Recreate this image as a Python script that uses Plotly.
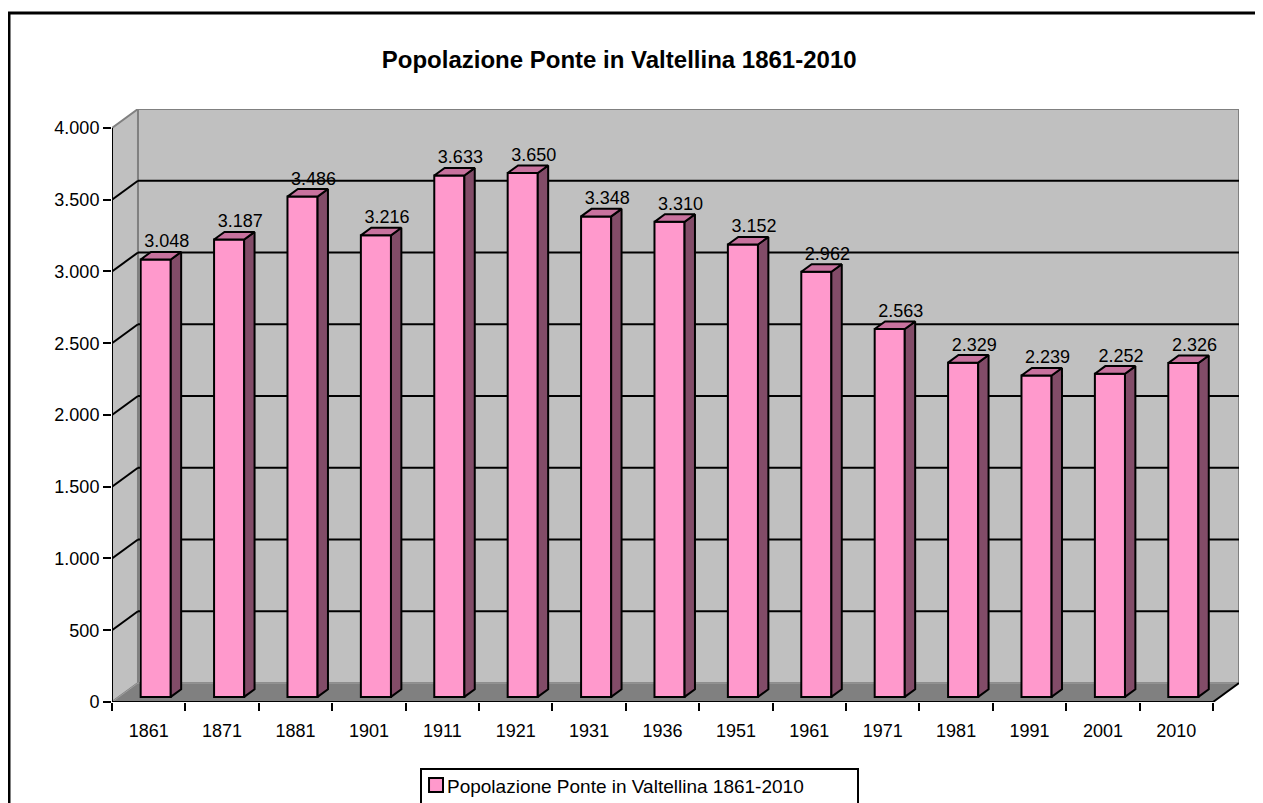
"""Popolazione Ponte in Valtellina 1861-2010 - colonne in stile 3D."""

import plotly.graph_objects as go

# Dati
anni = ["1861", "1871", "1881", "1901", "1911", "1921", "1931", "1936",
        "1951", "1961", "1971", "1981", "1991", "2001", "2010"]
popolazione = [3048, 3187, 3486, 3216, 3633, 3650, 3348, 3310,
               3152, 2962, 2563, 2329, 2239, 2252, 2326]
tick_y = [0, 500, 1000, 1500, 2000, 2500, 3000, 3500, 4000]
titolo = "Popolazione Ponte in Valtellina 1861-2010"

FONT = "Liberation Sans, Arial, sans-serif"
PINK = "#ff99cc"
SIDE = "#824c68"
TOP = "#c8729e"

# Profondita' dell'effetto 3D, in unita' degli assi
DX = 0.354          # categorie
DY = 132            # abitanti
F0, FD = 0.27, 0.40  # inizio e spessore della colonna in profondita'
W = 0.41
N = len(anni)
YMAX = tick_y[-1]

xs = [i + F0 * DX for i in range(N)]
base = F0 * DY

# Facce laterali e superiori calcolate dai valori
side_x, side_y, top_x, top_y = [], [], [], []
for x, v in zip(xs, popolazione):
    xl, xr, t = x - W / 2, x + W / 2, v + base
    side_x += [xr, xr + FD * DX, xr + FD * DX, xr, xr, None]
    side_y += [base, base + FD * DY, t + FD * DY, t, base, None]
    top_x += [xl, xr, xr + FD * DX, xl + FD * DX, xl, None]
    top_y += [t, t, t + FD * DY, t + FD * DY, t, None]

etichette = [f"{v:,}".replace(",", ".") for v in popolazione]

fig = go.Figure()
fig.add_trace(go.Bar(
    x=xs, y=popolazione, base=base, width=W, name=titolo,
    marker=dict(color=PINK, line=dict(color="black", width=2)),
))
fig.add_trace(go.Scatter(
    x=side_x, y=side_y, mode="lines", fill="toself", fillcolor=SIDE,
    line=dict(color="black", width=2), hoverinfo="skip",
))
fig.add_trace(go.Scatter(
    x=top_x, y=top_y, mode="lines", fill="toself", fillcolor=TOP,
    line=dict(color="black", width=2), hoverinfo="skip",
))
fig.add_trace(go.Scatter(
    x=[x + FD * DX / 2 + 0.08 for x in xs],
    y=[v + base + FD * DY for v in popolazione],
    mode="text", text=etichette, textposition="top center",
    textfont=dict(family=FONT, size=18, color="black"),
    hoverinfo="skip",
))

# Pareti, pavimento e griglia
x0, x1 = -0.5, N - 0.5
shapes = [
    dict(type="rect", xref="x", yref="y", x0=x0 + DX, x1=x1 + DX, y0=DY, y1=YMAX + DY,
         fillcolor="#c0c0c0", line=dict(color="#808080", width=2), layer="below"),
    dict(type="path", xref="x", yref="y",
         path=f"M {x0},0 L {x0 + DX},{DY} L {x0 + DX},{YMAX + DY} L {x0},{YMAX} Z",
         fillcolor="#c0c0c0", line=dict(color="#808080", width=2), layer="below"),
    dict(type="path", xref="x", yref="y",
         path=f"M {x0},0 L {x1},0 L {x1 + DX},{DY} L {x0 + DX},{DY} Z",
         fillcolor="#808080", line=dict(color="#a0a0a0", width=1), layer="below"),
]
for v in tick_y[1:-1]:
    shapes.append(dict(type="line", xref="x", yref="y", x0=x0 + DX, x1=x1 + DX,
                       y0=v + DY, y1=v + DY, line=dict(color="black", width=2), layer="below"))
    shapes.append(dict(type="line", xref="x", yref="y", x0=x0, x1=x0 + DX,
                       y0=v, y1=v + DY, line=dict(color="black", width=2), layer="below"))
# Assi frontali
shapes += [
    dict(type="line", xref="x", yref="y", x0=x0, x1=x0, y0=0, y1=YMAX,
         line=dict(color="black", width=2)),
    dict(type="line", xref="x", yref="y", x0=x0, x1=x1, y0=0, y1=0,
         line=dict(color="black", width=2)),
    dict(type="line", xref="x", yref="y", x0=x1, x1=x1 + DX, y0=0, y1=DY,
         line=dict(color="black", width=2)),
    # Cornice esterna
    dict(type="rect", xref="paper", yref="paper", x0=-0.0914, x1=1.3, y0=-0.4, y1=1.1619,
         line=dict(color="black", width=3), layer="below"),
    # icona della legenda
    dict(type="rect", xref="paper", yref="paper", x0=0.2813, x1=0.2937, y0=-0.1518, y1=-0.1282,
         fillcolor=PINK, line=dict(color="black", width=2)),
]

# Legenda disegnata come riquadro (la legenda di plotly sposterebbe i margini)
fig.add_annotation(
    text="\u2003" + titolo, xref="paper", yref="paper",
    x=0.2733, y=-0.1113, xanchor="left", yanchor="top", showarrow=False,
    width=423, align="left",
    bordercolor="black", borderwidth=2, borderpad=6, bgcolor="rgba(0,0,0,0)",
    font=dict(family=FONT, size=19, color="black"),
)

# la pagina ha 8 px di margine nel body: la figura e' piu' piccola di 8 px
fig.update_layout(
    width=1255, height=795,
    margin=dict(l=104, r=24, t=101, b=101),
    paper_bgcolor="white", plot_bgcolor="white",
    font=dict(family=FONT, size=18, color="black"),
    separators=",.",
    title=dict(text=f"<b>{titolo}</b>", x=0.487, xanchor="center", xref="container",
               y=0.935, yanchor="middle", yref="container",
               font=dict(family=FONT, size=24, color="black")),
    shapes=shapes,
    showlegend=False,
    hovermode=False,
)
fig.update_xaxes(
    range=[x0, x1 + DX], showgrid=False, zeroline=False, showline=False,
    tickvals=list(range(N)), ticktext=anni, ticks="", tickangle=0,
    ticklabelstandoff=16,
    tickfont=dict(family=FONT, size=18, color="black"),
    minor=dict(ticks="outside", tick0=-0.5, dtick=1, ticklen=8,
               tickwidth=2, tickcolor="black", showgrid=False),
)
fig.update_yaxes(
    range=[0, YMAX + DY], showgrid=False, zeroline=False, showline=False,
    tickvals=tick_y, tickformat=",d", ticks="outside", ticklen=8,
    tickwidth=2, tickcolor="black",
    tickfont=dict(family=FONT, size=18, color="black"),
)

fig.write_html("out.html")
